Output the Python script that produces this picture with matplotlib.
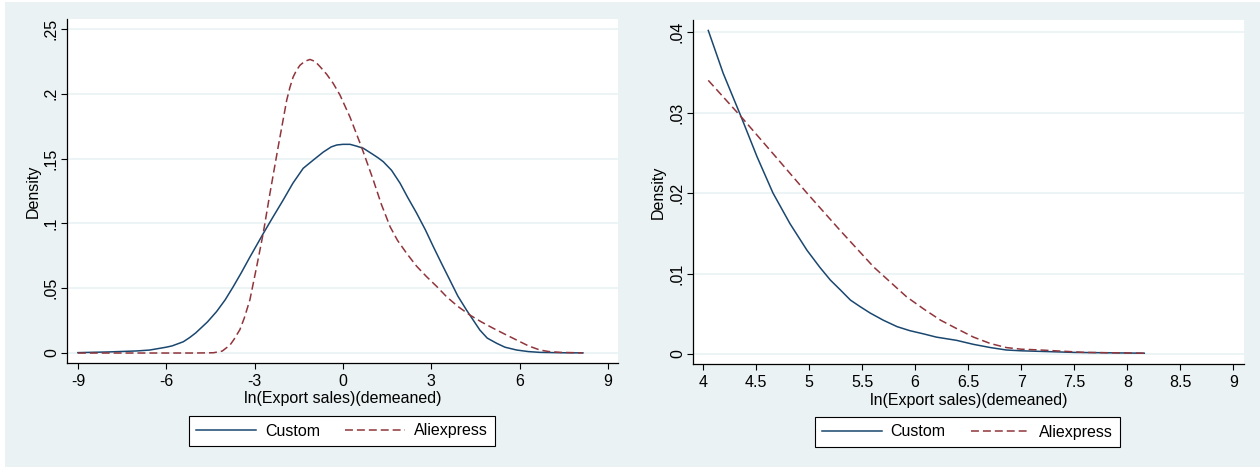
import matplotlib.pyplot as plt
from matplotlib.lines import Line2D
from matplotlib.patches import Rectangle

plt.rcParams["font.family"] = ["Liberation Sans", "DejaVu Sans"]

NAVY = "#1a476f"
MAROON = "#90353b"
BG = "#eaf2f3"
FS = 11.5

# left panel: full distribution
left_custom_x = [-9, -8, -7, -6.56, -6, -5.8, -5.42, -5.2, -5, -4.6, -4.29, -4.0, -3.73, -3.45,
                 -3.16, -2.71, -2.4, -2.03, -1.7, -1.35, -1.0, -0.67, -0.4, -0.21, 0, 0.24,
                 0.45, 0.69, 1.0, 1.2, 1.37, 1.65, 1.94, 2.2, 2.5, 2.8, 3.07, 3.35, 3.63, 3.9,
                 4.2, 4.45, 4.65, 4.9, 5.22, 5.5, 5.9, 6.3, 6.69, 7.4, 8.15]
left_custom_y = [0.0003, 0.0008, 0.0016, 0.0023, 0.0045, 0.0055, 0.0087, 0.012, 0.0155, 0.024,
                 0.032, 0.041, 0.051, 0.062, 0.074, 0.092, 0.104, 0.118, 0.131, 0.1425, 0.149,
                 0.155, 0.159, 0.1605, 0.161, 0.161, 0.1597, 0.158, 0.1535, 0.1505, 0.1476,
                 0.141, 0.131, 0.12, 0.108, 0.095, 0.082, 0.069, 0.0563, 0.044, 0.033, 0.0245,
                 0.0177, 0.0115, 0.0075, 0.0045, 0.0023, 0.0011, 0.0005, 0.0002, 0.0001]
left_ali_x = [-9, -7, -5, -4.4, -4.1, -3.84, -3.7, -3.5, -3.35, -3.16, -2.93, -2.71, -2.48,
              -2.2, -1.91, -1.8, -1.69, -1.58, -1.46, -1.3, -1.12, -0.95, -0.78, -0.55, -0.33,
              -0.1, 0.24, 0.63, 1.03, 1.3, 1.6, 1.85, 2.16, 2.5, 2.84, 3.2, 3.52, 3.9, 4.31,
              4.7, 5.11, 5.5, 5.9, 6.3, 6.69, 7.0, 7.4, 8.15]
left_ali_y = [0, 0, 0, 0.0002, 0.0015, 0.006, 0.0105, 0.018, 0.027, 0.041, 0.0666, 0.092,
              0.123, 0.159, 0.195, 0.205, 0.213, 0.218, 0.222, 0.225, 0.2265, 0.225, 0.221,
              0.215, 0.208, 0.199, 0.182, 0.159, 0.1335, 0.115, 0.0975, 0.087, 0.077, 0.067,
              0.0589, 0.051, 0.0434, 0.036, 0.0293, 0.024, 0.019, 0.0145, 0.010, 0.0055,
              0.0023, 0.0011, 0.0005, 0.0001]

# right panel: upper tail
right_custom_x = [4.05, 4.19, 4.365, 4.51, 4.66, 4.82, 4.98, 5.1, 5.2, 5.3, 5.39, 5.48, 5.575,
                  5.7, 5.83, 5.95, 6.08, 6.2, 6.39, 6.55, 6.71, 6.86, 7.0, 7.5, 8.16]
right_custom_y = [0.0402, 0.0349, 0.0293, 0.0245, 0.020, 0.0162, 0.0129, 0.0108, 0.0092,
                  0.0079, 0.0067, 0.0059, 0.0051, 0.0042, 0.0034, 0.0029, 0.0025, 0.0021,
                  0.0017, 0.0012, 0.0008, 0.0005, 0.0004, 0.0002, 0.0001]
right_ali_x = [4.05, 4.365, 4.66, 4.98, 5.29, 5.61, 5.92, 6.08, 6.24, 6.4, 6.55, 6.71, 6.86,
               7.0, 7.18, 7.6, 8.16]
right_ali_y = [0.034, 0.0294, 0.0249, 0.020, 0.0154, 0.0108, 0.0071, 0.0056, 0.0042, 0.0031,
               0.0021, 0.0013, 0.0008, 0.0006, 0.0005, 0.0002, 0.0001]

left_xticks = [-9, -6, -3, 0, 3, 6, 9]
left_yticks = [0, 0.05, 0.1, 0.15, 0.2, 0.25]
left_ylabels = ["0", ".05", ".1", ".15", ".2", ".25"]
right_xticks = [4, 4.5, 5, 5.5, 6, 6.5, 7, 7.5, 8, 8.5, 9]
right_xlabels = ["4", "4.5", "5", "5.5", "6", "6.5", "7", "7.5", "8", "8.5", "9"]
right_yticks = [0, 0.01, 0.02, 0.03, 0.04]
right_ylabels = ["0", ".01", ".02", ".03", ".04"]

series_names = ["Custom", "Aliexpress"]
DASH = (0, (5.2, 2.6))

fig = plt.figure(figsize=(12.6, 4.67), dpi=100)
fig.patch.set_facecolor("white")
fig.add_artist(Rectangle((5 / 1260, 0), 1, 1 - 2 / 467, transform=fig.transFigure,
                         facecolor=BG, edgecolor="none", zorder=-1))


def draw_panel(rect, cx, cy, ax_x, ay, xticks, xlabels, yticks, ylabels, xlim, ylim,
               ylab_x, xlab_y, legend_xy):
    ax = fig.add_axes(rect)
    ax.plot(cx, cy, color=NAVY, linewidth=1.1)
    ax.plot(ax_x, ay, color=MAROON, linewidth=1.1, linestyle=DASH)
    ax.set_xlim(*xlim)
    ax.set_ylim(*ylim)
    ax.set_xticks(xticks)
    ax.set_xticklabels(xlabels)
    ax.set_yticks(yticks)
    ax.set_yticklabels(ylabels, rotation=90, va="center")
    ax.tick_params(direction="out", length=4.3, width=0.8, color="black", labelsize=FS)
    ax.tick_params(axis="x", pad=3.5)
    ax.tick_params(axis="y", pad=1.5)
    for side in ["top", "right"]:
        ax.spines[side].set_visible(False)
    for side in ["left", "bottom"]:
        ax.spines[side].set_linewidth(0.9)
        ax.spines[side].set_color("black")
    ax.yaxis.grid(True, color=BG, linewidth=1.2)
    ax.set_axisbelow(True)
    ax.set_ylabel("Density", fontsize=FS)
    ax.yaxis.set_label_coords(ylab_x, 0.5)
    ax.set_xlabel("ln(Export sales)(demeaned)", fontsize=FS)
    ax.xaxis.set_label_coords(0.5, xlab_y)

    handles = [Line2D([], [], color=NAVY, linewidth=1.1),
               Line2D([], [], color=MAROON, linewidth=1.1, linestyle=DASH)]
    leg = fig.legend(handles, series_names, loc="center", bbox_to_anchor=legend_xy, ncol=2,
                     frameon=True, fancybox=False, edgecolor="black", framealpha=1,
                     handlelength=3.75, handletextpad=0.56, columnspacing=1.56,
                     borderpad=0.45, fontsize=FS)
    leg.get_frame().set_linewidth(0.8)
    return ax


draw_panel([67 / 1260, 104 / 467, 551 / 1260, 344 / 467],
           left_custom_x, left_custom_y, left_ali_x, left_ali_y,
           left_xticks, [str(t) for t in left_xticks], left_yticks, left_ylabels,
           (-9.37, 9.34), (-0.0077, 0.2577), -0.047, -0.08, (342 / 1260, 36 / 467))

draw_panel([693 / 1260, 103 / 467, 551 / 1260, 344 / 467],
           right_custom_x, right_custom_y, right_ali_x, right_ali_y,
           right_xticks, right_xlabels, right_yticks, right_ylabels,
           (3.906, 9.10), (-0.00124, 0.0415), -0.049, -0.083, (967.5 / 1260, 35 / 467))

fig.savefig("out.png", dpi=100, facecolor=fig.get_facecolor())
